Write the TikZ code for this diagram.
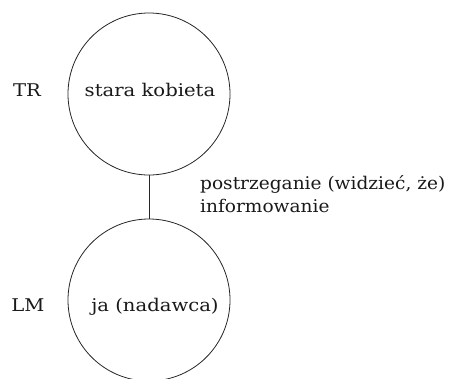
\documentclass[tikz,border=0pt]{standalone}
\usepackage{fontspec}
\setmainfont[FakeStretch=1.12]{DejaVu Serif}
\newfontfamily\relfont[FakeStretch=1.06]{DejaVu Serif}
\begin{document}
\begin{tikzpicture}[x=1pt,y=-1pt,
  ball/.style={circle,draw=black!85,line width=0.8pt,minimum size=162pt,inner sep=0pt},
  txt/.style={inner sep=0pt,font=\fontsize{17.5}{23}\selectfont,text=black!90},
  reltxt/.style={txt,font=\relfont\fontsize{17.5}{23}\selectfont},
  link/.style={draw=black!85,line width=0.8pt}]
\useasboundingbox (0,0) rectangle (454,378);
\node[ball] (tr) at (149,94) {};
\node[ball] (lm) at (149,300) {};
\draw[link] (tr.south) -- (lm.north);
\node[txt,anchor=base] (trl) at (27,96) {TR};
\node[txt,anchor=base] (lml) at (28,311) {LM};
\node[txt,anchor=base] (trt) at (150,96) {stara kobieta};
\node[txt,anchor=base] (lmt) at (155,311) {ja (nadawca)};
\node[reltxt,anchor=base west,align=left] (rel) at (200,212) {postrzeganie (widzieć, że)\\informowanie};
\end{tikzpicture}
\end{document}
